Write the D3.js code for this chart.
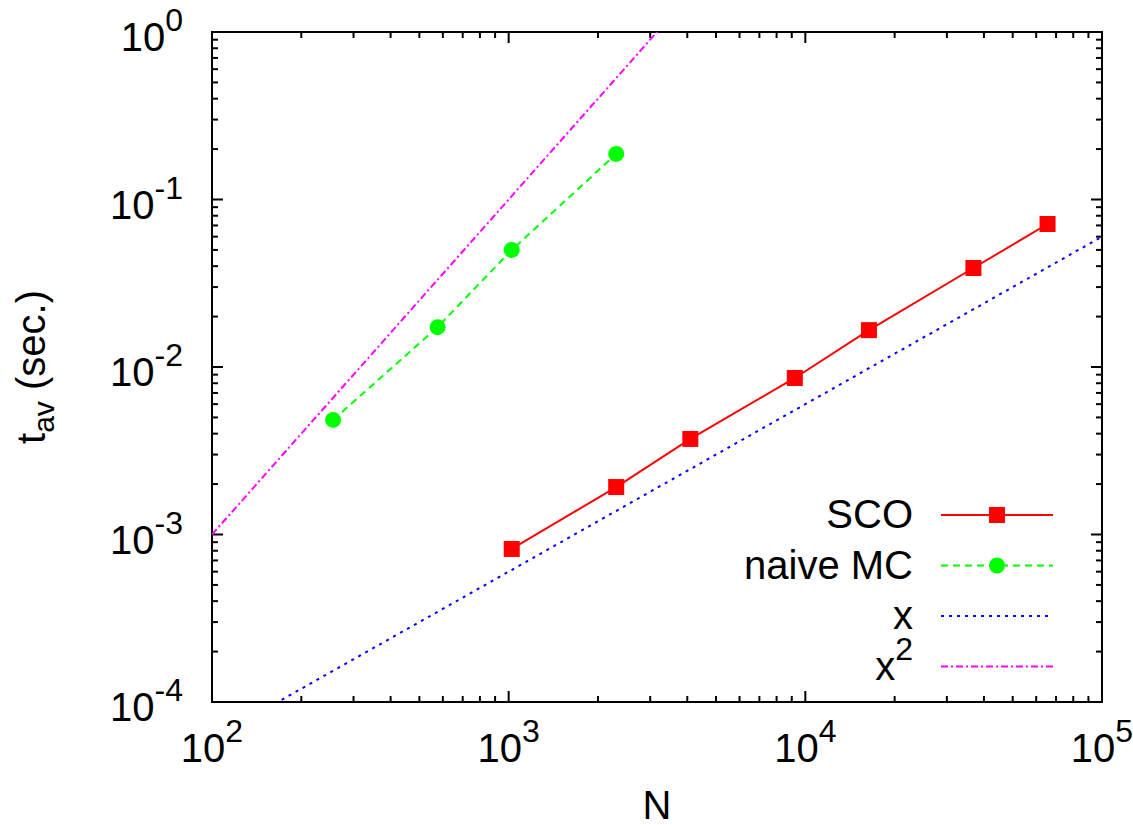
<!DOCTYPE html>
<html>
<head>
<meta charset="utf-8">
<script src="https://cdn.jsdelivr.net/npm/d3@7"></script>
<style>
    body { margin: 0; background: #fff; }
    text { font-family: "Liberation Sans", Arial, sans-serif; fill: #000; }
</style>
</head>
<body>
<div id="chart"></div>
<script>

// data
var scoN = [1024, 2304, 4096, 9216, 16384, 36864, 65536];
var scoT = [8.2e-4, 1.92e-3, 3.72e-3, 8.6e-3, 1.66e-2, 3.9e-2, 7.14e-2];

var mcN = [256, 576, 1024, 2304];
var mcT = [4.83e-3, 1.73e-2, 5.0e-2, 1.87e-1];

// reference lines t = a * N^p
var refNames = ['x', 'x2'];
var refCoef = [6e-7, 1e-7];
var refPow = [1, 2];

var xTickExp = [2, 3, 4, 5];
var yTickExp = [0, -1, -2, -3, -4];

var width = 1133,
    height = 825;

var margin = { left: 212, right: 31, top: 32, bottom: 123 };
var x0 = margin.left,
    x1 = width - margin.right,
    y0 = margin.top,
    y1 = height - margin.bottom;

var x = d3.scaleLog().domain([1e2, 1e5]).range([x0, x1]);
var y = d3.scaleLog().domain([1e-4, 1]).range([y1, y0]);

var svg = d3.select('#chart').append('svg')
    .attr('width', width)
    .attr('height', height);

svg.append('defs').append('clipPath')
    .attr('id', 'clip')
    .append('rect')
    .attr('x', x0).attr('y', y0)
    .attr('width', x1 - x0).attr('height', y1 - y0);

// ticks: major at decades, minor 2..9, on all four sides
function logTicks(lo, hi) {
    var major = [], minor = [];
    for (var e = lo; e <= hi; e++) {
        major.push(Math.pow(10, e));
        if (e < hi) {
            for (var k = 2; k <= 9; k++) minor.push(k * Math.pow(10, e));
        }
    }
    return { major: major, minor: minor };
}

var xt = logTicks(2, 5),
    yt = logTicks(-4, 0);

var axisG = svg.append('g')
    .attr('stroke', '#000')
    .attr('stroke-width', 2);

function addTicks(vals, len, isX) {
    vals.forEach(function(v) {
        if (isX) {
            var px = x(v);
            axisG.append('line').attr('x1', px).attr('x2', px).attr('y1', y1).attr('y2', y1 - len);
            axisG.append('line').attr('x1', px).attr('x2', px).attr('y1', y0).attr('y2', y0 + len);
        } else {
            var py = y(v);
            axisG.append('line').attr('y1', py).attr('y2', py).attr('x1', x0).attr('x2', x0 + len);
            axisG.append('line').attr('y1', py).attr('y2', py).attr('x1', x1).attr('x2', x1 - len);
        }
    });
}

addTicks(xt.major, 11, true);
addTicks(xt.minor, 6, true);
addTicks(yt.major, 11, false);
addTicks(yt.minor, 6, false);

axisG.append('rect')
    .attr('x', x0).attr('y', y0)
    .attr('width', x1 - x0).attr('height', y1 - y0)
    .attr('fill', 'none');

// tick labels
function powLabel(g, e) {
    var t = g.append('text').attr('font-size', 40);
    t.append('tspan').text('10');
    t.append('tspan').attr('font-size', 32).attr('dy', -20).text(e);
    return t;
}

xTickExp.forEach(function(e) {
    powLabel(svg, e)
        .attr('x', x(Math.pow(10, e)))
        .attr('y', y1 + 60)
        .attr('text-anchor', 'middle');
});

yTickExp.forEach(function(e) {
    powLabel(svg, e)
        .attr('x', 183)
        .attr('y', y(Math.pow(10, e)) + 19)
        .attr('text-anchor', 'end');
});

// axis labels
svg.append('text')
    .attr('x', (x0 + x1) / 2)
    .attr('y', 819)
    .attr('text-anchor', 'middle')
    .attr('font-size', 40)
    .text('N');

var yl = svg.append('text')
    .attr('transform', 'translate(45,' + ((y0 + y1) / 2) + ') rotate(-90)')
    .attr('text-anchor', 'middle')
    .attr('font-size', 40);
yl.append('tspan').text('t');
yl.append('tspan').attr('font-size', 30).attr('dy', 9).text('av');
yl.append('tspan').attr('dy', -9).text(' (sec.)');

// plot
var plot = svg.append('g').attr('clip-path', 'url(#clip)');

var line = d3.line()
    .x(function(d) { return x(d[0]); })
    .y(function(d) { return y(d[1]); });

var refStyle = {
    x: { color: '#0000ff', dash: '3,5' },
    x2: { color: '#ff00ff', dash: '7,3,2,3' }
};

refNames.forEach(function(name, i) {
    var pts = d3.range(0, 61).map(function(j) {
        var n = Math.pow(10, 2 + j * 3 / 60);
        return [n, refCoef[i] * Math.pow(n, refPow[i])];
    });
    plot.append('path')
        .datum(pts)
        .attr('d', line)
        .attr('fill', 'none')
        .attr('stroke', refStyle[name].color)
        .attr('stroke-width', 2)
        .attr('stroke-dasharray', refStyle[name].dash);
});

var mcData = mcN.map(function(n, i) { return [n, mcT[i]]; });
var scoData = scoN.map(function(n, i) { return [n, scoT[i]]; });

plot.append('path')
    .datum(mcData)
    .attr('d', line)
    .attr('fill', 'none')
    .attr('stroke', '#00ff00')
    .attr('stroke-width', 2)
    .attr('stroke-dasharray', '7,5');

plot.selectAll('circle.mc')
    .data(mcData)
    .enter().append('circle')
    .attr('class', 'mc')
    .attr('cx', function(d) { return x(d[0]); })
    .attr('cy', function(d) { return y(d[1]); })
    .attr('r', 8)
    .attr('fill', '#00ff00');

plot.append('path')
    .datum(scoData)
    .attr('d', line)
    .attr('fill', 'none')
    .attr('stroke', '#ff0000')
    .attr('stroke-width', 2);

plot.selectAll('rect.sco')
    .data(scoData)
    .enter().append('rect')
    .attr('class', 'sco')
    .attr('x', function(d) { return x(d[0]) - 8; })
    .attr('y', function(d) { return y(d[1]) - 8; })
    .attr('width', 16)
    .attr('height', 16)
    .attr('fill', '#ff0000');

// legend
var legend = svg.append('g');
var legItems = [
    { label: 'SCO', color: '#ff0000', dash: null, mark: 'square' },
    { label: 'naive MC', color: '#00ff00', dash: '7,5', mark: 'circle' },
    { label: 'x', color: '#0000ff', dash: '3,5', mark: null },
    { label: 'x', sup: '2', color: '#ff00ff', dash: '7,3,2,3', mark: null }
];
var legTextX = 913,
    legLineX0 = 941,
    legLineX1 = 1053,
    legY0 = 515,
    legStep = 50.5;

legItems.forEach(function(it, i) {
    var ly = legY0 + i * legStep;
    var t = legend.append('text')
        .attr('x', legTextX)
        .attr('y', ly + 13)
        .attr('text-anchor', 'end')
        .attr('font-size', 40);
    t.append('tspan').text(it.label);
    if (it.sup) t.append('tspan').attr('font-size', 32).attr('dy', -20).text(it.sup);

    legend.append('line')
        .attr('x1', legLineX0).attr('x2', legLineX1)
        .attr('y1', ly).attr('y2', ly)
        .attr('stroke', it.color)
        .attr('stroke-width', 2)
        .attr('stroke-dasharray', it.dash);

    var mx = (legLineX0 + legLineX1) / 2;
    if (it.mark === 'square') {
        legend.append('rect')
            .attr('x', mx - 8).attr('y', ly - 8)
            .attr('width', 16).attr('height', 16)
            .attr('fill', it.color);
    } else if (it.mark === 'circle') {
        legend.append('circle')
            .attr('cx', mx).attr('cy', ly)
            .attr('r', 8)
            .attr('fill', it.color);
    }
});

</script>
</body>
</html>
